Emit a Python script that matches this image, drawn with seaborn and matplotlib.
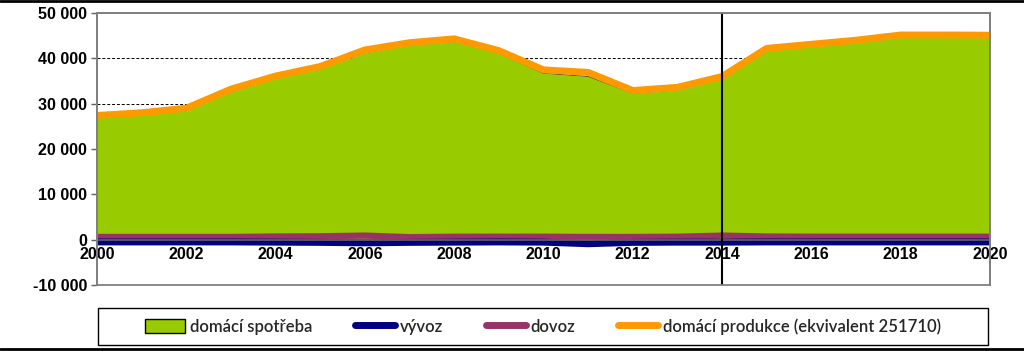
import matplotlib
matplotlib.use("Agg")
import matplotlib.pyplot as plt
import seaborn as sns
import pandas as pd
from matplotlib.patches import Rectangle
from matplotlib.lines import Line2D

# data
years = list(range(2000, 2021))
spotreba = [26900, 27500, 28400, 32600, 35500, 37600, 41200, 42900, 43700, 41100,
            36700, 36000, 32300, 33000, 35400, 41700, 42600, 43500, 44650, 44650, 44600]
produkce = [27400, 28000, 29000, 33200, 36100, 38200, 41850, 43450, 44300, 41700,
            37450, 36900, 32900, 33600, 36000, 42200, 43100, 44000, 45150, 45150, 45100]
dovoz = [600, 600, 600, 600, 700, 750, 900, 550, 650, 650,
         650, 600, 600, 650, 900, 700, 650, 650, 650, 650, 650]
vyvoz = [-500, -500, -500, -500, -550, -600, -700, -600, -550, -500,
         -550, -900, -600, -550, -550, -500, -500, -500, -500, -500, -500]

df = pd.DataFrame({"rok": years, "spotreba": spotreba, "produkce": produkce,
                   "dovoz": dovoz, "vyvoz": vyvoz})

sns.set_theme(style="white")
plt.rcParams["font.family"] = ["Liberation Sans", "DejaVu Sans"]

GREEN = "#99cc00"
NAVY = "#000080"
PLUM = "#993366"
ORANGE = "#ff9900"

fig = plt.figure(figsize=(10.24, 3.51), dpi=100)
ax = fig.add_axes([97 / 1024, 1 - 285 / 351, 893 / 1024, 272 / 351])

# dashed gridlines behind the area
for v in [10000, 20000, 30000, 40000]:
    ax.axhline(v, color="black", lw=0.7, ls=(0, (3, 2)), zorder=0)

ax.fill_between(df["rok"], 0, df["spotreba"], color=GREEN, lw=0, zorder=1)
ax.plot(df["rok"], df["spotreba"], color="#333300", lw=0.6, zorder=1.5)
sns.lineplot(data=df, x="rok", y="dovoz", color=PLUM, lw=4.5, ax=ax, zorder=2)
sns.lineplot(data=df, x="rok", y="vyvoz", color=NAVY, lw=5, ax=ax, zorder=2)
sns.lineplot(data=df, x="rok", y="produkce", color=ORANGE, lw=5, ax=ax, zorder=3)

ax.axvline(2014, color="black", lw=1.5, zorder=4)

ax.set_xlim(2000, 2020)
ax.set_ylim(-10000, 50000)
ax.set_xlabel("")
ax.set_ylabel("")

ax.set_yticks(range(-10000, 50001, 10000))
ax.set_yticklabels([f"{v:,}".replace(",", " ") for v in range(-10000, 50001, 10000)])
ax.tick_params(axis="y", length=4, width=1, color="#606060", direction="out", pad=3,
               left=True, labelsize=11.5)

# x axis crosses at zero
ax.spines["bottom"].set_position(("data", 0))
ax.spines["bottom"].set_color("#606060")
ax.set_xticks(range(2000, 2021, 2))
ax.set_xticklabels([str(y) for y in range(2000, 2021, 2)])
ax.tick_params(axis="x", length=3, color="#606060", direction="in", pad=5,
               bottom=True, labelsize=11.5)
for lab in ax.get_xticklabels() + ax.get_yticklabels():
    lab.set_fontweight("bold")
    lab.set_color("black")
for s in ["left", "top", "right"]:
    ax.spines[s].set_color("#808080")
    ax.spines[s].set_linewidth(1.3)
ax.add_patch(Rectangle((0, 0), 1, 1, transform=ax.transAxes, fill=False,
                       ec="#808080", lw=1.3, zorder=5, clip_on=False))

# legend
handles = [
    Rectangle((0, 0), 1, 1, fc=GREEN, ec="black", lw=1),
    Line2D([], [], color=NAVY, lw=5),
    Line2D([], [], color=PLUM, lw=5),
    Line2D([], [], color=ORANGE, lw=5),
]
labels = ["domácí spotřeba", "vývoz", "dovoz", "domácí produkce (ekvivalent 251710)"]
leg = fig.legend(handles, labels, loc="center", ncol=4,
                 bbox_to_anchor=(98 / 1024, 1 - 345 / 351, 890 / 1024, 37 / 351),
                 frameon=False, handlelength=2.4, handleheight=0.9,
                 handletextpad=0.25, columnspacing=2.6, borderaxespad=0,
                 prop={"family": ["Lato", "DejaVu Sans"], "size": 12, "weight": "semibold"})

# legend box spanning full width
fig.add_artist(Rectangle((98 / 1024, 1 - 345 / 351), 890 / 1024, 37 / 351,
                         transform=fig.transFigure, fill=False, ec="black", lw=1))

# figure border lines top and bottom
fig.add_artist(Line2D([0, 1], [0.997, 0.997], transform=fig.transFigure, color="black", lw=2))
fig.add_artist(Line2D([0, 1], [0.006, 0.006], transform=fig.transFigure, color="black", lw=2))

fig.savefig("out.png", dpi=100)
